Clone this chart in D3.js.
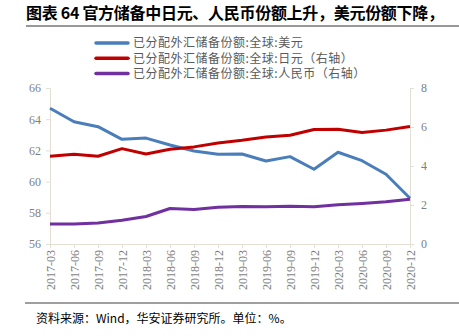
<!DOCTYPE html>
<html><head><meta charset="utf-8">
<script src="https://cdn.jsdelivr.net/npm/d3@7"></script>
<style>body{margin:0;background:#fff}svg{display:block}</style>
</head><body><svg id="c" width="459" height="336"></svg>
<script>
const categories = ["2017-03","2017-06","2017-09","2017-12","2018-03","2018-06","2018-09","2018-12","2019-03","2019-06","2019-09","2019-12","2020-03","2020-06","2020-09","2020-12"];
const usdShare = [64.70,63.84,63.52,62.71,62.79,62.35,61.96,61.75,61.77,61.32,61.60,60.79,61.88,61.34,60.47,58.93];
const jpyShare = [4.50,4.60,4.50,4.89,4.62,4.86,4.98,5.18,5.32,5.49,5.58,5.87,5.89,5.72,5.84,6.03];
const cnyShare = [1.03,1.03,1.08,1.22,1.41,1.82,1.77,1.89,1.92,1.91,1.94,1.91,2.01,2.08,2.17,2.30];
const leftTicks = [56,58,60,62,64,66];
const rightTicks = [0,2,4,6,8];
const seriesNames = ["已分配外汇储备份额:全球:美元","已分配外汇储备份额:全球:日元（右轴）","已分配外汇储备份额:全球:人民币（右轴）"];
const titleText = "图表 64 官方储备中日元、人民币份额上升，美元份额下降，";
const sourceText = "资料来源：Wind，华安证券研究所。单位：%。";

const svg = d3.select("#c");
const cjk = "'Noto Sans CJK SC', sans-serif";
const num = "'Liberation Serif', serif";
const axisColor = "#e3dfd3";
const textColor = "#7f7f7f";

// title
svg.append("text").attr("x",26).attr("y",19).attr("font-family",cjk).attr("font-weight","bold")
  .attr("font-size",16).attr("textLength",418).attr("lengthAdjust","spacing")
  .attr("fill","#000").text(titleText);
svg.append("line").attr("x1",26).attr("x2",459).attr("y1",26).attr("y2",26).attr("stroke","#333").attr("stroke-width",1.2);

const x = d3.scalePoint().domain(categories).range([50,410]);
const yL = d3.scaleLinear().domain([56,66]).range([244,88]);
const yR = d3.scaleLinear().domain([0,8]).range([244,88]);

// axes
const gL = svg.append("g").attr("transform","translate(50,0)")
  .call(d3.axisLeft(yL).tickValues(leftTicks).tickSize(4).tickPadding(5));
const gR = svg.append("g").attr("transform","translate(410,0)")
  .call(d3.axisRight(yR).tickValues(rightTicks).tickSize(4).tickPadding(7));
const gB = svg.append("g").attr("transform","translate(0,244)")
  .call(d3.axisBottom(x).tickSize(4).tickPadding(6));
[gL,gR,gB].forEach(g=>{
  g.selectAll("path,line").attr("stroke",axisColor);
  g.selectAll("text").attr("font-family",num).attr("font-size",12).attr("fill",textColor);
});
gB.selectAll("text").attr("transform","rotate(-90)").attr("text-anchor","end")
  .attr("x",-6).attr("y",0).attr("dy","0.35em");

// lines
const series = [
  {vals:usdShare, y:yL, color:"#4a7ebb"},
  {vals:jpyShare, y:yR, color:"#c00000"},
  {vals:cnyShare, y:yR, color:"#7030a0"}
];
series.forEach(s=>{
  const line = d3.line().x((d,i)=>x(categories[i])).y(d=>s.y(d));
  svg.append("path").datum(s.vals).attr("d",line).attr("fill","none")
    .attr("stroke",s.color).attr("stroke-width",3).attr("stroke-linejoin","round");
});

// legend
series.forEach((s,i)=>{
  const yy = 43 + i*15.3;
  svg.append("line").attr("x1",96).attr("x2",128).attr("y1",yy).attr("y2",yy)
    .attr("stroke",s.color).attr("stroke-width",3.5).attr("stroke-linecap","round");
  svg.append("text").attr("x",133).attr("y",yy).attr("dy","0.36em").attr("font-family",cjk)
    .attr("font-size",12).attr("letter-spacing",0.5).attr("fill","#595959").text(seriesNames[i]);
});

// footer
svg.append("line").attr("x1",25).attr("x2",459).attr("y1",303).attr("y2",303).attr("stroke","#7f7f7f").attr("stroke-width",1.5);
svg.append("text").attr("x",36).attr("y",323).attr("font-family",cjk).attr("font-size",12).attr("fill","#000").text(sourceText);
</script></body></html>
